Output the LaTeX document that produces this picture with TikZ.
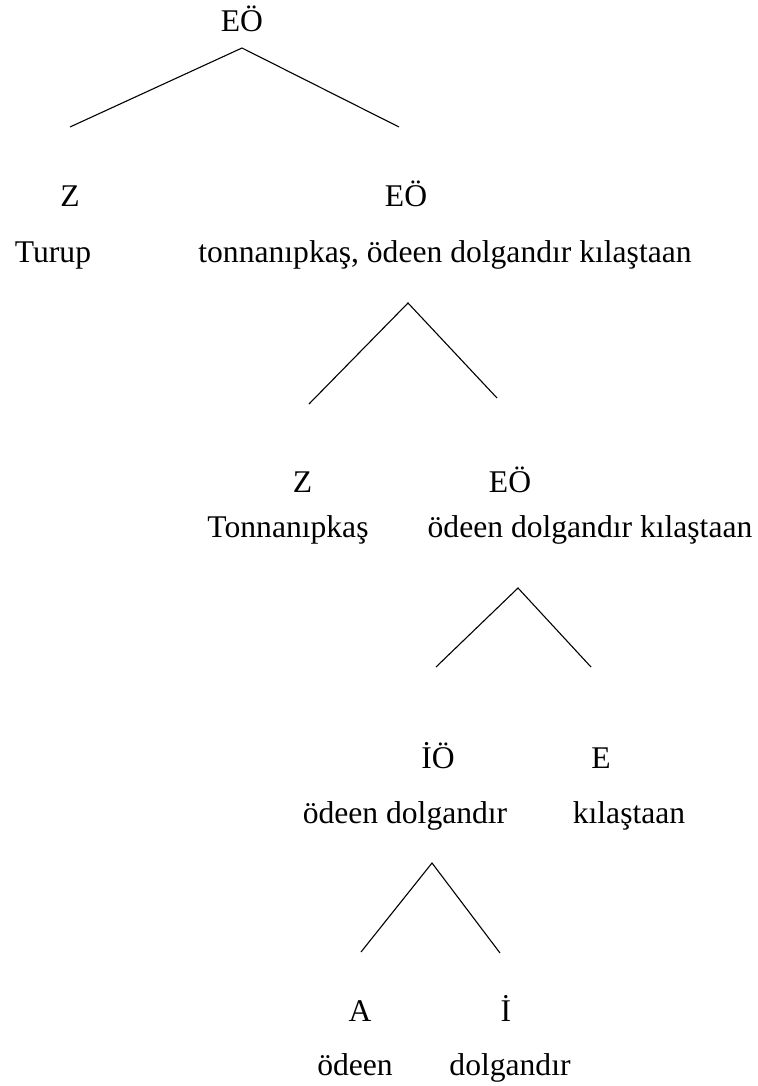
\documentclass[tikz,border=0pt]{standalone}
\usepackage{fontspec}
\setmainfont{Liberation Serif}
\tikzset{
  kat/.style={anchor=base,inner sep=0pt},
  dal/.style={line width=1.1pt},
}
\begin{document}
\begin{tikzpicture}[x=1pt,y=-1pt,font=\fontsize{31.6}{38}\selectfont]
  \useasboundingbox (0,0) rectangle (757,1086);
  % 1. seviye
  \node[kat] (eo1) at (242,32) {EÖ};
  \coordinate (t1) at (242,48); \coordinate (t1a) at (70,127); \coordinate (t1b) at (399,127);
  \draw[dal] (t1a) -- (t1) -- (t1b);
  \node[kat] (z1) at (70,207) {Z}; \node[kat] (eo2) at (406,207) {EÖ};
  \node[kat] (w1) at (53,262) {Turup};
  \node[kat] (w2) at (445,262) {tonnanıpkaş, ödeen dolgandır kılaştaan};
  % 2. seviye
  \coordinate (t2) at (408,303); \coordinate (t2a) at (309,404); \coordinate (t2b) at (497,398);
  \draw[dal] (t2a) -- (t2) -- (t2b);
  \node[kat] (z2) at (302.5,492) {Z}; \node[kat] (eo3) at (510,492) {EÖ};
  \node[kat] (w3) at (288,537) {Tonnanıpkaş};
  \node[kat] (w4) at (590,537) {ödeen dolgandır kılaştaan};
  % 3. seviye
  \coordinate (t3) at (518,588); \coordinate (t3a) at (436,667); \coordinate (t3b) at (591,667);
  \draw[dal] (t3a) -- (t3) -- (t3b);
  \node[kat] (io) at (438,768) {İÖ}; \node[kat] (e) at (601,768) {E};
  \node[kat] (w5) at (405,823) {ödeen dolgandır};
  \node[kat] (w6) at (629,823) {kılaştaan};
  % 4. seviye
  \coordinate (t4) at (432,863); \coordinate (t4a) at (361,952); \coordinate (t4b) at (500,953);
  \draw[dal] (t4a) -- (t4) -- (t4b);
  \node[kat] (a) at (360,1021) {A}; \node[kat] (i) at (506,1021) {İ};
  \node[kat] (w7) at (355,1075) {ödeen};
  \node[kat] (w8) at (510,1075) {dolgandır};
\end{tikzpicture}
\end{document}
